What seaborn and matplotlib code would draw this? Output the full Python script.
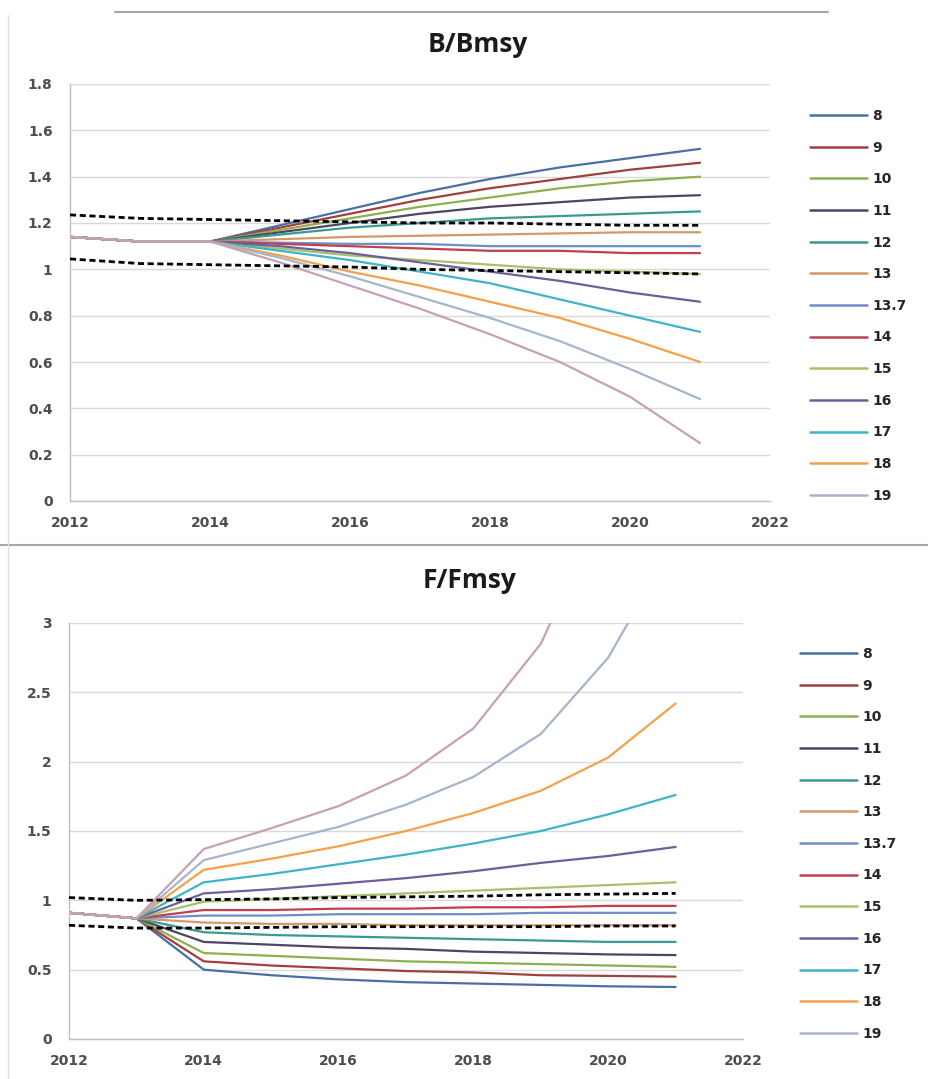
import matplotlib
matplotlib.use("Agg")
import matplotlib.pyplot as plt
from matplotlib.lines import Line2D
from matplotlib.ticker import FuncFormatter, MultipleLocator
import seaborn as sns
import pandas as pd

# ---------------- data ----------------
years = [2012, 2013, 2014, 2015, 2016, 2017, 2018, 2019, 2020, 2021]
series = ["8", "9", "10", "11", "12", "13", "13.7", "14", "15", "16", "17", "18", "19", "20"]
legend_series = series[:13]

colors = ["#4A6FA5", "#A0403E", "#8FAE4F", "#4E4466", "#3A9A8E", "#D09A6A", "#6E8EC8",
          "#C0404F", "#A5C26A", "#6D5E9C", "#3FB3C8", "#F5A04A", "#A6B4CC", "#C8A0B5"]

# B/Bmsy
b_hist = [1.14, 1.12]
b_proj = {
    "8":    [1.12, 1.19, 1.26, 1.33, 1.39, 1.44, 1.48, 1.52],
    "9":    [1.12, 1.18, 1.24, 1.30, 1.35, 1.39, 1.43, 1.46],
    "10":   [1.12, 1.17, 1.22, 1.27, 1.31, 1.35, 1.38, 1.40],
    "11":   [1.12, 1.16, 1.20, 1.24, 1.27, 1.29, 1.31, 1.32],
    "12":   [1.12, 1.15, 1.18, 1.20, 1.22, 1.23, 1.24, 1.25],
    "13":   [1.12, 1.13, 1.14, 1.145, 1.15, 1.155, 1.16, 1.16],
    "13.7": [1.12, 1.115, 1.11, 1.11, 1.10, 1.10, 1.10, 1.10],
    "14":   [1.12, 1.11, 1.10, 1.09, 1.08, 1.08, 1.07, 1.07],
    "15":   [1.12, 1.09, 1.06, 1.04, 1.02, 1.00, 0.99, 0.98],
    "16":   [1.12, 1.10, 1.07, 1.03, 0.99, 0.95, 0.90, 0.86],
    "17":   [1.12, 1.08, 1.04, 0.99, 0.94, 0.87, 0.80, 0.73],
    "18":   [1.12, 1.06, 0.99, 0.93, 0.86, 0.79, 0.70, 0.60],
    "19":   [1.12, 1.05, 0.97, 0.88, 0.79, 0.69, 0.57, 0.44],
    "20":   [1.12, 1.03, 0.93, 0.83, 0.72, 0.60, 0.45, 0.25],
}
b_upper = [1.235, 1.22, 1.215, 1.21, 1.205, 1.20, 1.20, 1.195, 1.19, 1.19]
b_lower = [1.045, 1.025, 1.02, 1.015, 1.01, 1.00, 0.995, 0.99, 0.985, 0.98]

# F/Fmsy
f_hist = [0.91, 0.87]
f_proj = {
    "8":    [0.50, 0.46, 0.43, 0.41, 0.40, 0.39, 0.38, 0.375],
    "9":    [0.56, 0.53, 0.51, 0.49, 0.48, 0.46, 0.455, 0.45],
    "10":   [0.62, 0.60, 0.58, 0.56, 0.55, 0.54, 0.53, 0.52],
    "11":   [0.70, 0.68, 0.66, 0.65, 0.63, 0.62, 0.61, 0.605],
    "12":   [0.77, 0.75, 0.74, 0.73, 0.72, 0.71, 0.70, 0.70],
    "13":   [0.84, 0.83, 0.83, 0.82, 0.82, 0.82, 0.82, 0.82],
    "13.7": [0.89, 0.89, 0.90, 0.90, 0.90, 0.91, 0.91, 0.91],
    "14":   [0.93, 0.93, 0.94, 0.94, 0.95, 0.95, 0.96, 0.96],
    "15":   [0.99, 1.01, 1.03, 1.05, 1.07, 1.09, 1.11, 1.13],
    "16":   [1.05, 1.08, 1.12, 1.16, 1.21, 1.27, 1.32, 1.385],
    "17":   [1.13, 1.19, 1.26, 1.33, 1.41, 1.50, 1.62, 1.76],
    "18":   [1.22, 1.30, 1.39, 1.50, 1.63, 1.79, 2.03, 2.42],
    "19":   [1.29, 1.41, 1.53, 1.69, 1.89, 2.20, 2.75, 3.60],
    "20":   [1.37, 1.52, 1.68, 1.90, 2.24, 2.85, 3.90, 5.50],
}
f_upper = [1.02, 1.00, 1.005, 1.01, 1.02, 1.025, 1.03, 1.04, 1.045, 1.05]
f_lower = [0.82, 0.80, 0.80, 0.805, 0.81, 0.81, 0.81, 0.81, 0.815, 0.815]

# ---------------- style ----------------
sns.set_theme(style="white")
plt.rcParams["font.family"] = ["DejaVu Sans"]

TICKFONT = ["DejaVu Sans"]
TITLEFONT = ["Open Sans", "DejaVu Sans"]
GRID = "#D9D9D9"
AXC = "#BFBFBF"
TXT = "#4D4D4D"


def long_df(hist, proj):
    rows = []
    for s in series:
        vals = hist + proj[s]
        for y, v in zip(years, vals):
            rows.append({"year": y, "value": v, "series": s})
    return pd.DataFrame(rows)


def draw_panel(ax, hist, proj, upper, lower, ylim, ystep, title, title_xy, leg_xy):
    df = long_df(hist, proj)
    pal = dict(zip(series, colors))
    sns.lineplot(data=df, x="year", y="value", hue="series", hue_order=series,
                 palette=pal, linewidth=1.6, ax=ax, legend=False)
    ref = pd.DataFrame({"year": years, "upper": upper, "lower": lower})
    for col in ["upper", "lower"]:
        sns.lineplot(data=ref, x="year", y=col, color="black", linewidth=2.0,
                     ax=ax, legend=False, dashes=False)
    for ln in ax.lines[-2:]:
        ln.set_linestyle((0, (2.2, 1.3)))
        ln.set_zorder(5)

    ax.set_xlim(2012, 2022)
    ax.set_ylim(*ylim)
    ax.xaxis.set_major_locator(MultipleLocator(2))
    ax.yaxis.set_major_locator(MultipleLocator(ystep))
    ax.yaxis.set_major_formatter(FuncFormatter(lambda v, p: f"{v:g}"))
    ax.set_xlabel("")
    ax.set_ylabel("")
    ax.grid(axis="y", color=GRID, linewidth=1.0)
    ax.grid(axis="x", visible=False)
    for sp in ["top", "right"]:
        ax.spines[sp].set_visible(False)
    for sp in ["left", "bottom"]:
        ax.spines[sp].set_color(AXC)
        ax.spines[sp].set_linewidth(1.0)
    ax.tick_params(axis="both", which="major", length=3.5, width=1, color=AXC,
                   labelsize=10, labelcolor=TXT, direction="out")
    ax.tick_params(axis="x", pad=7)
    ax.tick_params(axis="y", pad=9)
    for lab in ax.get_xticklabels() + ax.get_yticklabels():
        lab.set_family(TICKFONT)
        lab.set_fontweight("bold")

    fig.text(title_xy[0], title_xy[1], title, ha="center", va="center",
             fontsize=19, fontweight="bold", color="#1A1A1A", family=TITLEFONT)

    handles = [Line2D([0], [0], color=c, linewidth=1.8) for c in colors[:13]]
    leg = ax.legend(handles, legend_series, loc="upper left",
                    bbox_to_anchor=leg_xy, bbox_transform=fig.transFigure,
                    frameon=False, handlelength=4.1, handletextpad=0.4,
                    labelspacing=1.27, borderpad=0, borderaxespad=0,
                    prop={"family": TICKFONT, "weight": "bold", "size": 10})
    for t in leg.get_texts():
        t.set_color("#262626")


W, H = 929, 1079
fig = plt.figure(figsize=(W / 100, H / 100), dpi=100)
fig.patch.set_facecolor("white")

ax1 = fig.add_axes([70 / W, 1 - 501 / H, 700 / W, 417 / H])
ax2 = fig.add_axes([69 / W, 1 - 1039 / H, 674 / W, 416 / H])

draw_panel(ax1, b_hist, b_proj, b_upper, b_lower, (0, 1.8), 0.2, "B/Bmsy",
           (478 / W, 1 - 45 / H), (810 / W, 1 - 109 / H))
draw_panel(ax2, f_hist, f_proj, f_upper, f_lower, (0, 3), 0.5, "F/Fmsy",
           (470 / W, 1 - 581 / H), (800 / W, 1 - 647 / H))

# frame lines of the original screenshot
fig.add_artist(Line2D([115 / W, 828 / W], [1 - 12 / H, 1 - 12 / H],
                      transform=fig.transFigure, color="#A6A6A6", linewidth=1.5))
fig.add_artist(Line2D([0, 1], [1 - 545 / H, 1 - 545 / H],
                      transform=fig.transFigure, color="#A6A6A6", linewidth=1.5))
fig.add_artist(Line2D([8 / W, 8 / W], [1 - 15 / H, 0],
                      transform=fig.transFigure, color="#E0E0E0", linewidth=1.0))

fig.savefig("out.png", dpi=100, facecolor="white")
